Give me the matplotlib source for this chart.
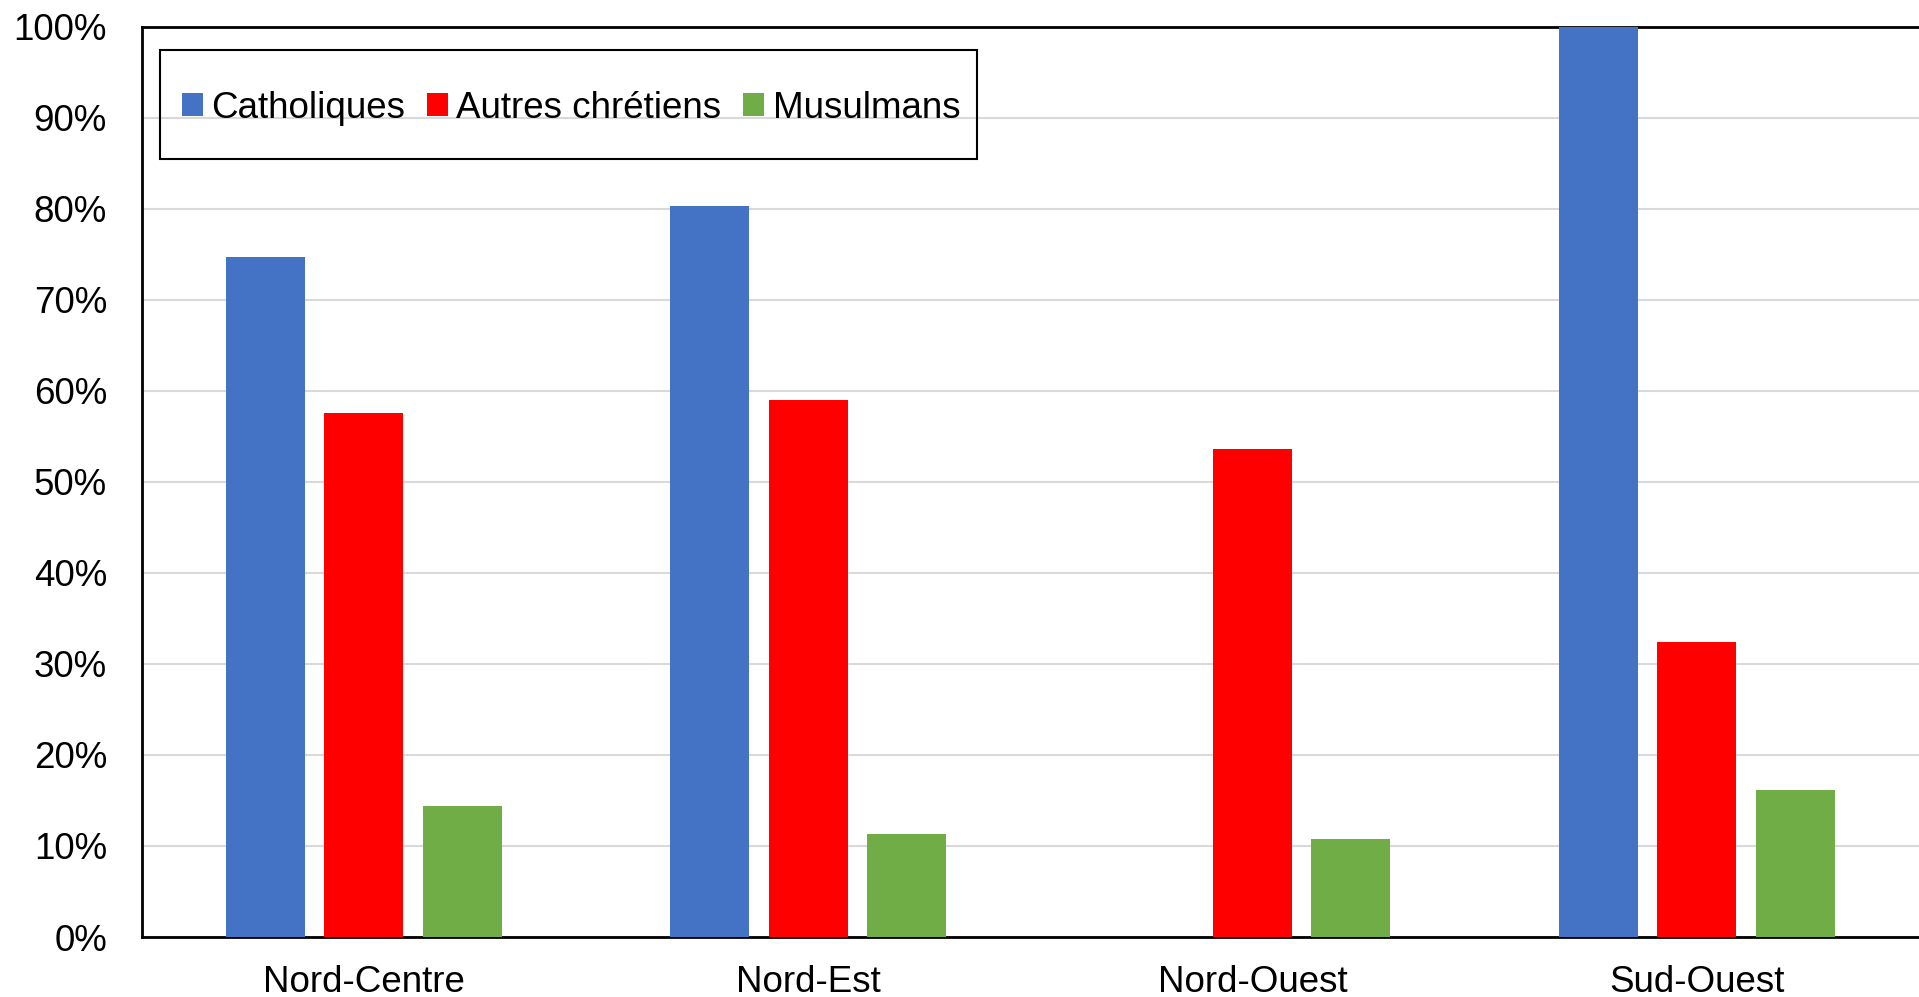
import matplotlib
matplotlib.use("Agg")
import matplotlib.pyplot as plt
import numpy as np
from matplotlib.patches import Rectangle
from matplotlib.ticker import MultipleLocator, FuncFormatter

categories = ["Nord-Centre", "Nord-Est", "Nord-Ouest", "Sud-Ouest"]
series_names = ["Catholiques", "Autres chrétiens", "Musulmans"]
catholiques = [74.7, 80.3, 0.0, 100.0]
autres_chretiens = [57.6, 59.0, 53.6, 32.4]
musulmans = [14.4, 11.3, 10.8, 16.2]
colors = ["#4472C4", "#FF0000", "#70AD47"]

plt.rcParams['font.family'] = ['Liberation Sans', 'DejaVu Sans']
FS = 26.5

W, H = 1919, 997
fig = plt.figure(figsize=(W / 100, H / 100), dpi=100)
ax = fig.add_axes([141.6 / W, 60 / H, (W - 141.6) / W, (937 - 26.7) / H])

x = np.arange(len(categories))
step = 0.2215
width = 0.1775
handles = []
for i, (vals, name, c) in enumerate(zip([catholiques, autres_chretiens, musulmans], series_names, colors)):
    b = ax.bar(x + (i - 1) * step, vals, width, color=c, label=name, zorder=3)
    handles.append(b)

ax.set_xlim(-0.5, len(categories) - 0.5)
ax.set_ylim(0, 100)
ax.yaxis.set_major_locator(MultipleLocator(10))
ax.yaxis.set_major_formatter(FuncFormatter(lambda v, p: f"{int(round(v))}%"))
ax.set_xticks(x)
ax.set_xticklabels(categories)
ax.tick_params(axis='both', length=0, labelsize=FS)
ax.tick_params(axis='y', pad=25)
ax.tick_params(axis='x', pad=20.5)
ax.grid(axis='y', color='#D9D9D9', linewidth=1.5, zorder=0)
ax.set_axisbelow(True)
for s in ['left', 'bottom', 'top']:
    ax.spines[s].set_color('black')
    ax.spines[s].set_linewidth(2)
ax.spines['right'].set_visible(False)

# legend frame
fig.patches.append(Rectangle((160 / W, 1 - 159 / H), (977 - 160) / W, (159 - 50) / H,
                             transform=fig.transFigure, fill=False, edgecolor='black',
                             linewidth=1.5, zorder=10))
leg = fig.legend(handles=handles, labels=series_names, loc='center left',
                 bbox_to_anchor=(182 / W, 1 - 108 / H), ncol=3, frameon=False,
                 fontsize=FS, handlelength=0.57, handleheight=0.57,
                 handletextpad=0.22, columnspacing=0.6, borderpad=0, borderaxespad=0)

fig.savefig("out.png", dpi=100)
